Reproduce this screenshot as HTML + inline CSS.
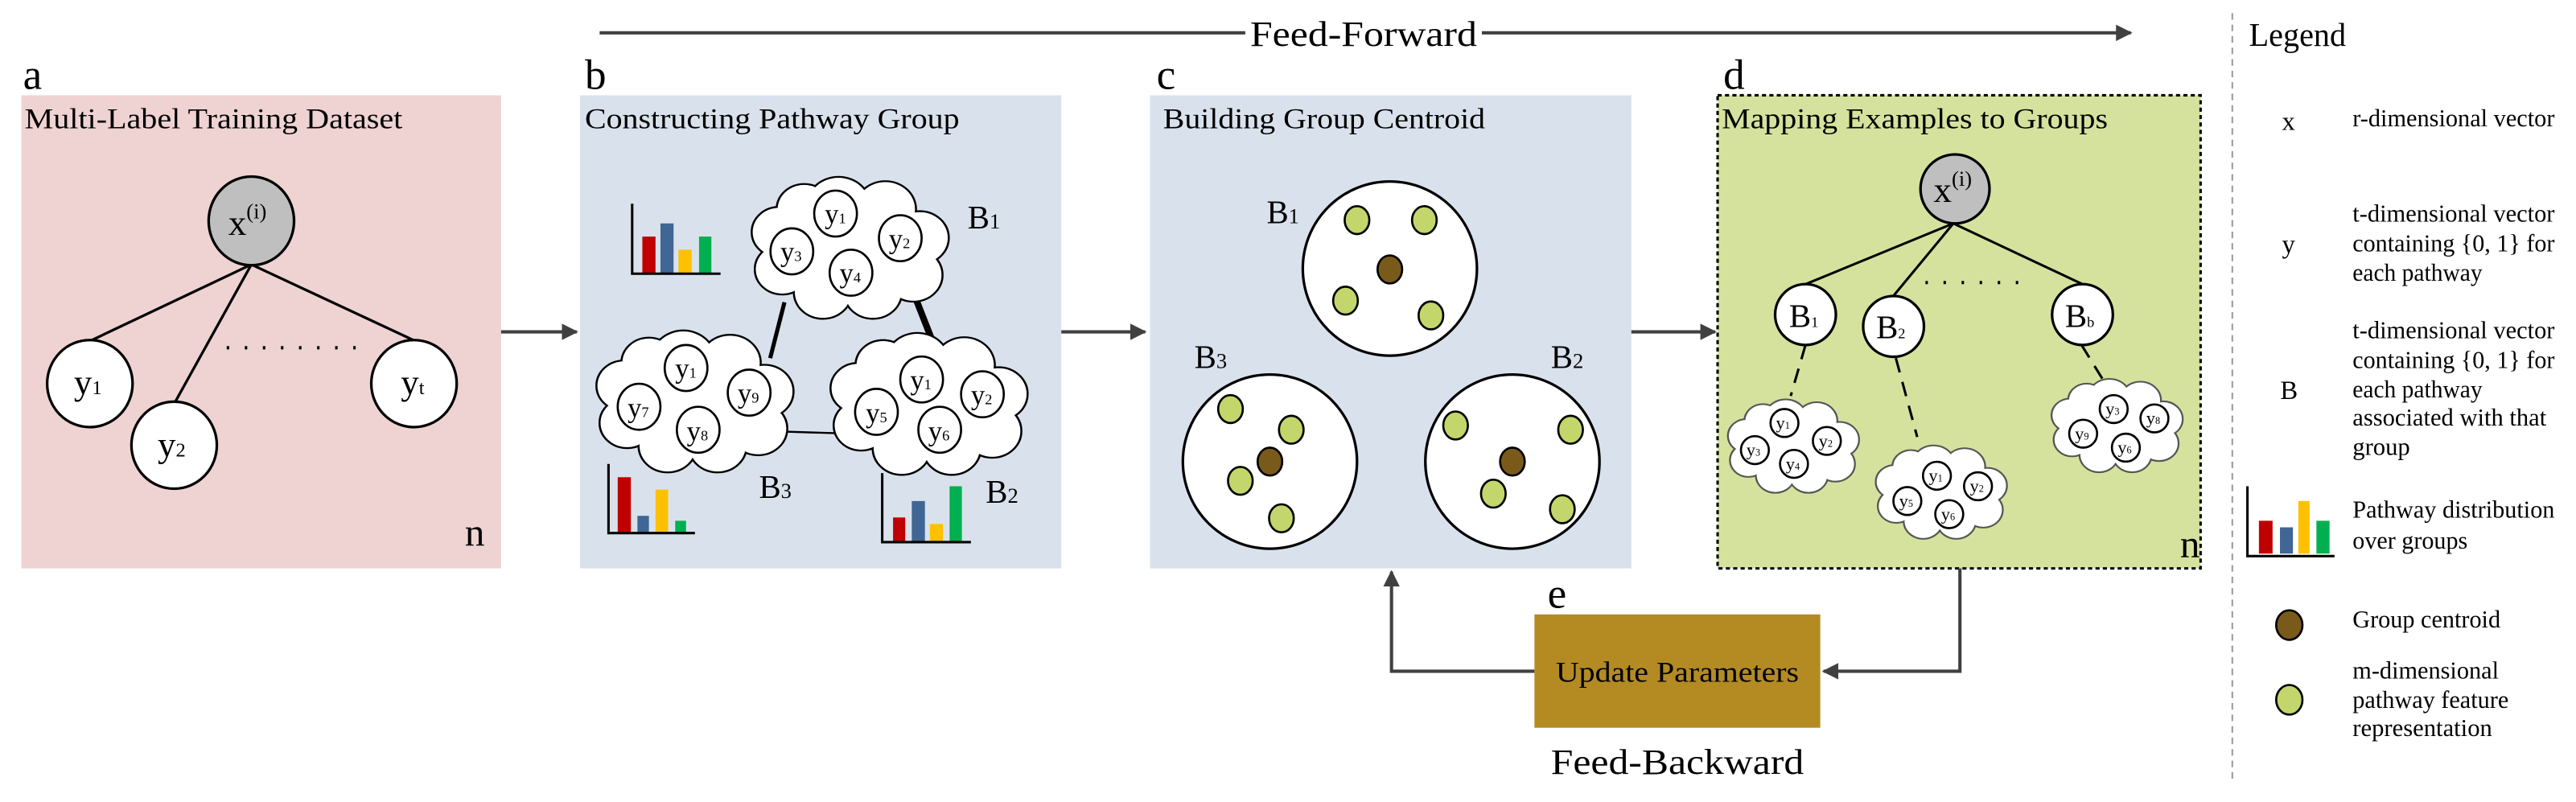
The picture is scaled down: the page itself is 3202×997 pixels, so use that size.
<!DOCTYPE html>
<html><head><meta charset="utf-8"><style>
html,body{margin:0;padding:0;background:#fff;}
svg{display:block;}
text{font-family:"Liberation Serif",serif;fill:#000;}
</style></head><body>
<svg width="3202" height="997" viewBox="0 0 1568 488.2" preserveAspectRatio="none" xmlns="http://www.w3.org/2000/svg">
<defs>
<g id="cloudS">
<circle cx="-8" cy="-28" r="20"/><circle cx="22" cy="-26" r="19"/><circle cx="44" cy="-6" r="18"/><circle cx="40" cy="20" r="18"/><circle cx="14" cy="32" r="18"/><circle cx="-18" cy="32" r="18"/><circle cx="-44" cy="16" r="17"/><circle cx="-46" cy="-10" r="17"/><circle cx="-30" cy="-26" r="17"/>
</g>
<marker id="ah" viewBox="0 0 10 10" refX="9" refY="5" markerWidth="5" markerHeight="5" orient="auto" markerUnits="strokeWidth"><path d="M0,0 L10,5 L0,10 z" fill="#404040"/></marker>
</defs>

<!-- Feed-forward -->
<line x1="365" y1="20" x2="1297" y2="20" stroke="#404040" stroke-width="2" marker-end="url(#ah)"/>
<rect x="758" y="8" width="144" height="24" fill="#fff"/>
<text x="761" y="28" font-size="22" textLength="138" lengthAdjust="spacingAndGlyphs">Feed-Forward</text>

<!-- Panel a -->
<text x="14" y="54" font-size="26">a</text>
<rect x="13" y="58" width="292" height="288" fill="#eed3d2"/>
<text x="15" y="78" font-size="17.5" textLength="230" lengthAdjust="spacingAndGlyphs">Multi-Label Training Dataset</text>
<g stroke="#000" stroke-width="1.6">
<line x1="153" y1="161" x2="56" y2="207"/><line x1="153" y1="161" x2="107" y2="244"/><line x1="153" y1="161" x2="251.5" y2="207"/>
</g>
<g stroke="#000" stroke-width="1.6" fill="#fff">
<ellipse cx="153" cy="134.5" rx="26" ry="27" fill="#bfbfbf"/>
<ellipse cx="54.7" cy="233.5" rx="26" ry="26.5"/><ellipse cx="106" cy="271" rx="26" ry="26.5"/><ellipse cx="252" cy="233.5" rx="26" ry="26.5"/>
</g>
<text x="139" y="143" font-size="22">x<tspan font-size="13" dy="-10">(i)</tspan></text>
<text x="45" y="240" font-size="22">y<tspan font-size="12">1</tspan></text>
<text x="96" y="278" font-size="22">y<tspan font-size="12">2</tspan></text>
<text x="244" y="240" font-size="22">y<tspan font-size="12">t</tspan></text>
<line x1="138" y1="211.7" x2="220" y2="211.7" stroke="#000" stroke-width="2" stroke-dasharray="1.5,9.5"/>
<text x="283" y="332" font-size="24">n</text>

<line x1="305" y1="202" x2="351" y2="202" stroke="#404040" stroke-width="2" marker-end="url(#ah)"/>

<!-- Panel b -->
<text x="356" y="54" font-size="26">b</text>
<rect x="353" y="58" width="293" height="288" fill="#d9e2ec"/>
<text x="356" y="78" font-size="17.5" textLength="228" lengthAdjust="spacingAndGlyphs">Constructing Pathway Group</text>
<line x1="477.5" y1="184" x2="468.8" y2="218" stroke="#000" stroke-width="2.5"/>
<line x1="557.5" y1="182" x2="568.5" y2="210" stroke="#000" stroke-width="4"/>
<line x1="470" y1="262.5" x2="518" y2="264" stroke="#000" stroke-width="1.2"/>
<g transform="translate(518,150) scale(0.95,0.87)"><use href="#cloudS" fill="#fff" stroke="#000" stroke-width="2.6"/><use href="#cloudS" fill="#fff"/><ellipse rx="44" ry="28" fill="#fff"/></g>
<g transform="translate(423.5,243.5) scale(0.95,0.87)"><use href="#cloudS" fill="#fff" stroke="#000" stroke-width="2.6"/><use href="#cloudS" fill="#fff"/><ellipse rx="44" ry="28" fill="#fff"/></g>
<g transform="translate(566,245) scale(0.95,0.87)"><use href="#cloudS" fill="#fff" stroke="#000" stroke-width="2.6"/><use href="#cloudS" fill="#fff"/><ellipse rx="44" ry="28" fill="#fff"/></g>
<g fill="none" stroke="#000" stroke-width="1.3">
<ellipse cx="508.6" cy="130" rx="13" ry="14"/><ellipse cx="548" cy="145" rx="13" ry="14"/><ellipse cx="482" cy="153" rx="13" ry="14"/><ellipse cx="518" cy="166" rx="13" ry="14"/>
<ellipse cx="417.6" cy="224" rx="13" ry="14"/><ellipse cx="456" cy="239" rx="13" ry="14"/><ellipse cx="389" cy="247.6" rx="13" ry="14"/><ellipse cx="425" cy="261.6" rx="13" ry="14"/>
<ellipse cx="561" cy="231" rx="13" ry="14"/><ellipse cx="598" cy="240" rx="13" ry="14"/><ellipse cx="533.5" cy="250.7" rx="13" ry="14"/><ellipse cx="572" cy="261.6" rx="13" ry="14"/>
</g>
<g font-size="17">
<text x="502" y="136">y<tspan font-size="9">1</tspan></text><text x="541" y="151">y<tspan font-size="9">2</tspan></text><text x="475" y="159">y<tspan font-size="9">3</tspan></text><text x="511" y="172">y<tspan font-size="9">4</tspan></text>
<text x="411" y="230">y<tspan font-size="9">1</tspan></text><text x="449" y="245">y<tspan font-size="9">9</tspan></text><text x="382" y="254">y<tspan font-size="9">7</tspan></text><text x="418" y="268">y<tspan font-size="9">8</tspan></text>
<text x="554" y="237">y<tspan font-size="9">1</tspan></text><text x="591" y="246">y<tspan font-size="9">2</tspan></text><text x="527" y="257">y<tspan font-size="9">5</tspan></text><text x="565" y="268">y<tspan font-size="9">6</tspan></text>
</g>
<text x="589" y="139" font-size="20">B<tspan font-size="13">1</tspan></text>
<text x="462" y="303" font-size="20">B<tspan font-size="13">3</tspan></text>
<text x="600" y="306" font-size="20">B<tspan font-size="13">2</tspan></text>
<!-- bars -->
<g>
<rect x="391" y="144" width="8" height="22" fill="#c00000"/><rect x="402" y="136" width="8" height="30" fill="#3f6694"/><rect x="413" y="152" width="8" height="14" fill="#ffc000"/><rect x="425.5" y="144" width="7.5" height="22" fill="#00b050"/>
<polyline points="384.8,124 384.8,166.6 438.6,166.6" fill="none" stroke="#000" stroke-width="1.5"/>
<rect x="376" y="290.5" width="8" height="34" fill="#c00000"/><rect x="388" y="314" width="7" height="10.5" fill="#3f6694"/><rect x="399" y="298" width="7.7" height="26.5" fill="#ffc000"/><rect x="411" y="317" width="6.6" height="7.5" fill="#00b050"/>
<polyline points="370.4,282.4 370.4,324.5 423,324.5" fill="none" stroke="#000" stroke-width="1.5"/>
<rect x="543.6" y="315" width="7.4" height="15" fill="#c00000"/><rect x="555" y="305" width="8" height="25" fill="#3f6694"/><rect x="566" y="319" width="8" height="11" fill="#ffc000"/><rect x="578" y="296" width="7.5" height="34" fill="#00b050"/>
<polyline points="537,288 537,330 591,330" fill="none" stroke="#000" stroke-width="1.5"/>
</g>

<line x1="646" y1="202" x2="697" y2="202" stroke="#404040" stroke-width="2" marker-end="url(#ah)"/>

<!-- Panel c -->
<text x="704" y="54" font-size="26">c</text>
<rect x="700" y="58" width="293" height="288" fill="#d9e2ec"/>
<text x="708" y="78" font-size="17.5" textLength="196" lengthAdjust="spacingAndGlyphs">Building Group Centroid</text>
<g stroke="#000" stroke-width="1.6" fill="#fff">
<circle cx="846" cy="163.5" r="53"/><circle cx="773" cy="281" r="53"/><circle cx="920.6" cy="281" r="53"/>
</g>
<g stroke="#000" stroke-width="1.3" fill="#c3d66b">
<ellipse cx="826" cy="134" rx="7.5" ry="8.5"/><ellipse cx="867" cy="134" rx="7.5" ry="8.5"/><ellipse cx="819" cy="183" rx="7.5" ry="8.5"/><ellipse cx="871" cy="192" rx="7.5" ry="8.5"/>
<ellipse cx="749" cy="249" rx="7.5" ry="8.5"/><ellipse cx="786" cy="261.6" rx="7.5" ry="8.5"/><ellipse cx="755" cy="292.7" rx="7.5" ry="8.5"/><ellipse cx="780" cy="315.5" rx="7.5" ry="8.5"/>
<ellipse cx="886" cy="259" rx="7.5" ry="8.5"/><ellipse cx="956" cy="261.6" rx="7.5" ry="8.5"/><ellipse cx="909" cy="300.5" rx="7.5" ry="8.5"/><ellipse cx="951" cy="310" rx="7.5" ry="8.5"/>
</g>
<g stroke="#000" stroke-width="1.3" fill="#7a5a1a">
<ellipse cx="846" cy="164" rx="7.5" ry="8.5"/><ellipse cx="773" cy="281" rx="7.5" ry="8.5"/><ellipse cx="920.6" cy="281" rx="7.5" ry="8.5"/>
</g>
<text x="771" y="136" font-size="20">B<tspan font-size="13">1</tspan></text>
<text x="727" y="224" font-size="20">B<tspan font-size="13">3</tspan></text>
<text x="944" y="224" font-size="20">B<tspan font-size="13">2</tspan></text>

<line x1="993" y1="202" x2="1044" y2="202" stroke="#404040" stroke-width="2" marker-end="url(#ah)"/>

<!-- Panel d -->
<text x="1049" y="54" font-size="26">d</text>
<rect x="1045.5" y="58" width="294" height="288" fill="#d5e29e" stroke="#000" stroke-width="1.5" stroke-dasharray="2.5,2"/>
<text x="1048" y="78" font-size="17.5" textLength="235" lengthAdjust="spacingAndGlyphs">Mapping Examples to Groups</text>
<g stroke="#000" stroke-width="1.5">
<line x1="1189" y1="136" x2="1099" y2="173"/><line x1="1189" y1="136" x2="1152.6" y2="180"/><line x1="1189" y1="136" x2="1267.6" y2="173"/>
<g stroke-dasharray="9,6"><line x1="1099" y1="210" x2="1090" y2="241"/><line x1="1154" y1="218" x2="1167" y2="266"/><line x1="1267" y1="210" x2="1280" y2="231"/></g>
</g>
<line x1="1172" y1="172" x2="1230" y2="172" stroke="#000" stroke-width="2" stroke-dasharray="1.5,9.5"/>
<g stroke="#000" stroke-width="1.6" fill="#fff">
<circle cx="1190" cy="115" r="21" fill="#bfbfbf"/>
<circle cx="1099" cy="191.5" r="18.5"/><circle cx="1152.6" cy="198.7" r="18.5"/><circle cx="1267.6" cy="191.5" r="18.5"/>
</g>
<text x="1177" y="123" font-size="22">x<tspan font-size="13" dy="-10">(i)</tspan></text>
<text x="1089" y="199" font-size="20">B<tspan font-size="9">1</tspan></text>
<text x="1142" y="206" font-size="20">B<tspan font-size="9">2</tspan></text>
<text x="1257" y="199" font-size="20">B<tspan font-size="9">b</tspan></text>
<g transform="translate(1092,271) scale(0.63,0.57)"><use href="#cloudS" fill="#fff" stroke="#555" stroke-width="3.5"/><use href="#cloudS" fill="#fff"/><ellipse rx="44" ry="28" fill="#fff"/></g>
<g transform="translate(1182,299) scale(0.63,0.57)"><use href="#cloudS" fill="#fff" stroke="#555" stroke-width="3.5"/><use href="#cloudS" fill="#fff"/><ellipse rx="44" ry="28" fill="#fff"/></g>
<g transform="translate(1289,258.5) scale(0.63,0.57)"><use href="#cloudS" fill="#fff" stroke="#555" stroke-width="3.5"/><use href="#cloudS" fill="#fff"/><ellipse rx="44" ry="28" fill="#fff"/></g>
<g fill="#fff" stroke="#000" stroke-width="1.3">
<circle cx="1086.2" cy="257.5" r="8.5"/><circle cx="1112" cy="268.4" r="8.5"/><circle cx="1068.2" cy="274" r="8.5"/><circle cx="1092" cy="282.4" r="8.5"/>
<circle cx="1179" cy="289.6" r="8.5"/><circle cx="1204" cy="296" r="8.5"/><circle cx="1161" cy="305" r="8.5"/><circle cx="1186.5" cy="313" r="8.5"/>
<circle cx="1286.6" cy="249" r="8.5"/><circle cx="1311.4" cy="254.7" r="8.5"/><circle cx="1268" cy="264" r="8.5"/><circle cx="1294" cy="272.5" r="8.5"/>
</g>
<g font-size="11">
<text x="1081" y="261">y<tspan font-size="6">1</tspan></text><text x="1107" y="272">y<tspan font-size="6">2</tspan></text><text x="1063" y="277.5">y<tspan font-size="6">3</tspan></text><text x="1087" y="286">y<tspan font-size="6">4</tspan></text>
<text x="1174" y="293">y<tspan font-size="6">1</tspan></text><text x="1199" y="299.5">y<tspan font-size="6">2</tspan></text><text x="1156" y="308.5">y<tspan font-size="6">5</tspan></text><text x="1181.5" y="316.5">y<tspan font-size="6">6</tspan></text>
<text x="1281.6" y="252.5">y<tspan font-size="6">3</tspan></text><text x="1306.4" y="258">y<tspan font-size="6">8</tspan></text><text x="1263" y="267.5">y<tspan font-size="6">9</tspan></text><text x="1289" y="276">y<tspan font-size="6">6</tspan></text>
</g>
<text x="1327" y="339" font-size="24">n</text>

<!-- Panel e -->
<text x="942" y="370" font-size="26">e</text>
<rect x="934" y="374" width="174" height="69" fill="#b38b22"/>
<text x="947" y="415" font-size="17.5" textLength="148" lengthAdjust="spacingAndGlyphs">Update Parameters</text>
<text x="944" y="471" font-size="22" textLength="154" lengthAdjust="spacingAndGlyphs">Feed-Backward</text>
<polyline points="1193,346 1193,408.6 1110,408.6" fill="none" stroke="#404040" stroke-width="2" marker-end="url(#ah)"/>
<polyline points="934,408.6 847,408.6 847,348" fill="none" stroke="#404040" stroke-width="2" marker-end="url(#ah)"/>

<!-- Legend -->
<line x1="1358.8" y1="8" x2="1358.8" y2="475" stroke="#999" stroke-width="1" stroke-dasharray="4,3"/>
<text x="1369" y="28" font-size="20" textLength="59" lengthAdjust="spacingAndGlyphs">Legend</text>
<g font-size="16">
<text x="1389" y="79">x</text>
<text x="1389" y="154">y</text>
<text x="1388" y="243">B</text>
</g>
<g font-size="15" lengthAdjust="spacingAndGlyphs">
<text x="1432" y="77" textLength="123" lengthAdjust="spacingAndGlyphs">r-dimensional vector</text>
<text x="1432" y="135" textLength="123" lengthAdjust="spacingAndGlyphs">t-dimensional vector</text>
<text x="1432" y="153" textLength="123" lengthAdjust="spacingAndGlyphs">containing {0, 1} for</text>
<text x="1432" y="171" textLength="79" lengthAdjust="spacingAndGlyphs">each pathway</text>
<text x="1432" y="206" textLength="123" lengthAdjust="spacingAndGlyphs">t-dimensional vector</text>
<text x="1432" y="224" textLength="123" lengthAdjust="spacingAndGlyphs">containing {0, 1} for</text>
<text x="1432" y="242" textLength="79" lengthAdjust="spacingAndGlyphs">each pathway</text>
<text x="1432" y="259" textLength="118" lengthAdjust="spacingAndGlyphs">associated with that</text>
<text x="1432" y="277" textLength="35" lengthAdjust="spacingAndGlyphs">group</text>
<text x="1432" y="315" textLength="123" lengthAdjust="spacingAndGlyphs">Pathway distribution</text>
<text x="1432" y="334" textLength="70" lengthAdjust="spacingAndGlyphs">over groups</text>
<text x="1432" y="382" textLength="90" lengthAdjust="spacingAndGlyphs">Group centroid</text>
<text x="1432" y="413" textLength="89" lengthAdjust="spacingAndGlyphs">m-dimensional</text>
<text x="1432" y="431" textLength="95" lengthAdjust="spacingAndGlyphs">pathway feature</text>
<text x="1432" y="448" textLength="85" lengthAdjust="spacingAndGlyphs">representation</text>
</g>
<rect x="1375" y="317" width="8.3" height="20" fill="#c00000"/><rect x="1387.8" y="321" width="7.9" height="16" fill="#3f6694"/><rect x="1399" y="305" width="6.8" height="32" fill="#ffc000"/><rect x="1410" y="317" width="8" height="20" fill="#00b050"/>
<polyline points="1368,296 1368,338.5 1421,338.5" fill="none" stroke="#000" stroke-width="1.5"/>
<ellipse cx="1393.5" cy="380.5" rx="8" ry="9" fill="#7a5a1a" stroke="#000" stroke-width="1.3"/>
<ellipse cx="1393.5" cy="426" rx="8" ry="9" fill="#c3d66b" stroke="#000" stroke-width="1.3"/>
</svg>
</body></html>
